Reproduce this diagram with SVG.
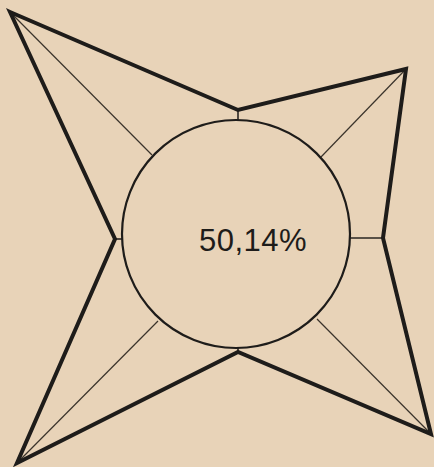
<svg xmlns="http://www.w3.org/2000/svg" width="434" height="467" viewBox="0 0 434 467">
<style>
.star{fill:none;stroke:#1e1c1a;stroke-width:4;stroke-linejoin:miter;stroke-miterlimit:20}
.circ{fill:none;stroke:#1e1c1a;stroke-width:2.2}
.thin{stroke:#3a332b;stroke-width:1.2;fill:none}
.tick{stroke:#2a2622;stroke-width:1.6;fill:none}
.lbl{font-family:"Liberation Sans",Arial,sans-serif;font-size:31px;fill:#1e1c1a}
</style>
<rect width="434" height="467" fill="#e8d3b8"/>
<g id="connectors">
<line class="thin" x1="10" y1="12" x2="152" y2="155"/>
<line class="thin" x1="406" y1="69" x2="321" y2="157"/>
<line class="thin" x1="431" y1="434" x2="317" y2="319"/>
<line class="thin" x1="17" y1="463" x2="158" y2="321"/>
<line class="tick" x1="238" y1="110" x2="238" y2="121"/>
<line class="tick" x1="383" y1="238" x2="350" y2="238"/>
<line class="tick" x1="238" y1="352" x2="238" y2="347"/>
<line class="tick" x1="115" y1="239" x2="122" y2="239"/>
</g>
<g id="star">
<path class="star" d="M10,12 L238,110 L406,69 L383,238 L431,434 L238,352 L17,463 L115,239 Z"/>
</g>
<g id="center">
<circle class="circ" cx="236" cy="234" r="114"/>
<text class="lbl" x="199" y="251" letter-spacing="0.5">50,14%</text>
</g>
</svg>
